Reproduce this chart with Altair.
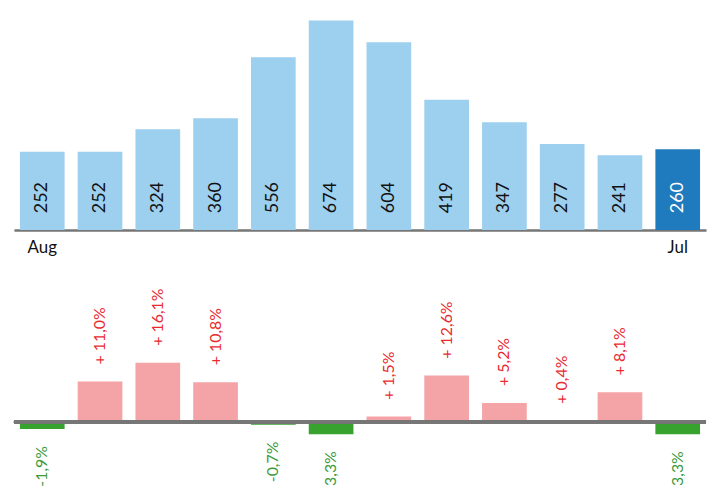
import altair as alt
import pandas as pd

months = ["Aug", "Sep", "Oct", "Nov", "Dec", "Jan", "Feb", "Mar", "Apr", "May", "Jun", "Jul"]
values = [252, 252, 324, 360, 556, 674, 604, 419, 347, 277, 241, 260]
pct = [-1.9, 11.0, 16.1, 10.8, -0.7, -3.3, 1.5, 12.6, 5.2, 0.4, 8.1, -3.3]


def fmt(v):
    s = f"{abs(v):.1f}".replace(".", ",") + "%"
    return ("+ " + s) if v > 0 else ("-" + s)


df_top = pd.DataFrame({"month": months, "value": values})
df_bot = pd.DataFrame({"month": months, "pct": pct, "label": [fmt(v) for v in pct]})

FONT = "Lato"
GRAY = "#767676"
xscale = alt.Scale(paddingInner=0.2266, paddingOuter=0.103)

top_base = alt.Chart(df_top).encode(
    x=alt.X(
        "month:N",
        sort=months,
        scale=xscale,
        axis=alt.Axis(
            title=None,
            ticks=False,
            domainColor=GRAY,
            domainWidth=2.5,
            labelAngle=0,
            labelFont=FONT,
            labelFontSize=17,
            labelColor="#111111",
            labelPadding=10,
            labelExpr="datum.value == 'Aug' || datum.value == 'Jul' ? datum.value : ''",
        ),
    )
)
top_bars = top_base.mark_bar().encode(
    y=alt.Y("value:Q", scale=alt.Scale(domain=[0, 700], nice=False), axis=None),
    color=alt.condition("datum.month == 'Jul'", alt.value("#1F7BBD"), alt.value("#9DCFEF")),
)
top_text = top_base.mark_text(
    angle=270, align="left", baseline="middle", dx=17, font=FONT, fontSize=18
).encode(
    y=alt.datum(0),
    text="value:Q",
    color=alt.condition("datum.month == 'Jul'", alt.value("#FFFFFF"), alt.value("#111111")),
)
top = alt.layer(top_bars, top_text).properties(width=696, height=219)

bot_base = alt.Chart(df_bot).encode(
    x=alt.X("month:N", sort=months, scale=xscale, axis=None)
)
yb = alt.Scale(domain=[-17.5, 31], nice=False)
bot_bars = bot_base.mark_bar().encode(
    y=alt.Y("pct:Q", scale=yb, axis=None),
    color=alt.condition("datum.pct > 0", alt.value("#F4A3A6"), alt.value("#37A22E")),
)
bot_rule = alt.Chart(df_bot).mark_rule(color=GRAY, strokeWidth=2.5).encode(y=alt.datum(0))
pos_text = bot_base.transform_filter("datum.pct > 0").mark_text(
    angle=270, align="left", baseline="middle", dx=17, font=FONT, fontSize=16, color="#E82A2E"
).encode(y=alt.Y("pct:Q"), text="label:N")
neg_text = bot_base.transform_filter("datum.pct < 0").mark_text(
    angle=270, align="right", baseline="middle", dx=-17, font=FONT, fontSize=16, color="#3B9A3A"
).encode(y=alt.Y("pct:Q"), text="label:N")
bottom = alt.layer(bot_bars, bot_rule, pos_text, neg_text).properties(width=696, height=180)

chart = (
    alt.vconcat(top, bottom, spacing=78, bounds="flush")
    .properties(padding={"left": 4, "top": 3, "right": 0, "bottom": 0})
    .configure_view(stroke=None)
)

chart.save("out.html", embed_options={"renderer": "svg", "actions": False})
